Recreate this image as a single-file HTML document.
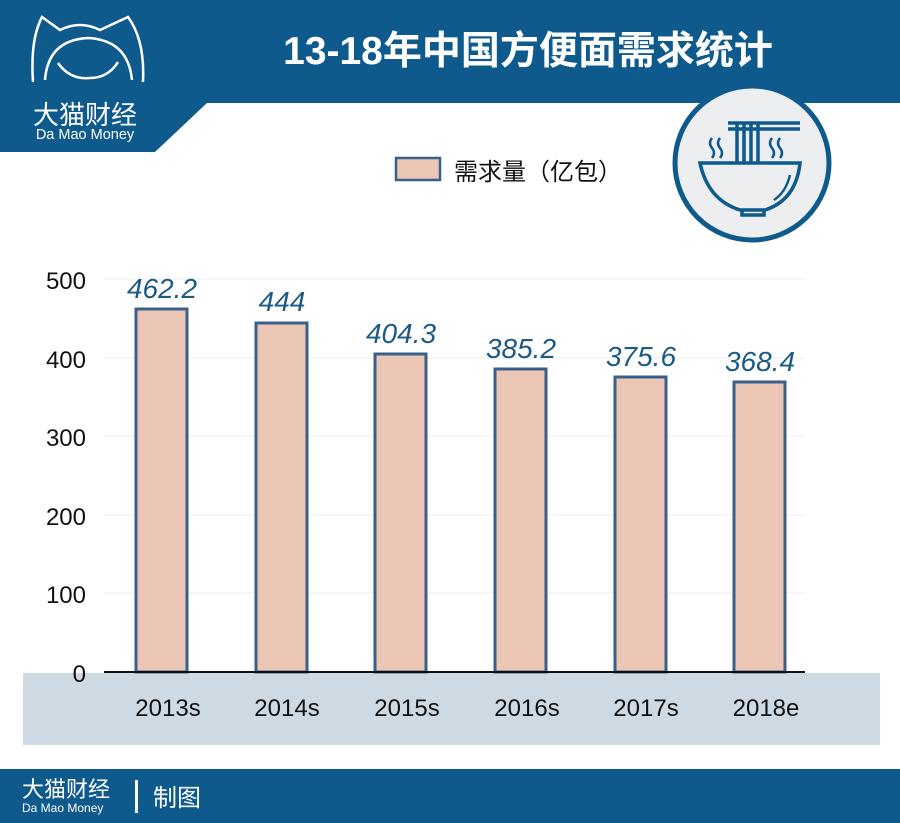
<!DOCTYPE html>
<html><head><meta charset="utf-8"><style>
html,body{margin:0;padding:0;background:#fff;}
svg{display:block;}
text{font-family:"Liberation Sans","Noto Sans CJK SC",sans-serif;}
</style></head><body>
<svg width="900" height="823" viewBox="0 0 900 823" xmlns="http://www.w3.org/2000/svg">
<polygon points="0,0 900,0 900,103 207,103 155,152 0,152" fill="#0f5a8c"/>
<g fill="none" stroke="#fff" stroke-width="2.5">
<path d="M33,82 Q30,40 42,17 L60,30 Q80,20 100,30 L128,17 Q145,40 143,82"/>
<path d="M45,80 Q48,40 88,38 Q128,40 132,80"/>
<path d="M58,63 Q70,80 90,78 Q108,78 118,62"/>
</g>
<text x="85" y="124" font-size="26" fill="#fff" text-anchor="middle">大猫财经</text>
<text x="85" y="139" font-size="14.5" fill="#fff" text-anchor="middle">Da Mao Money</text>
<text x="528" y="64" font-size="39" font-weight="bold" fill="#fff" text-anchor="middle">13-18年中国方便面需求统计</text>
<circle cx="752" cy="163" r="77" fill="#eceef0" stroke="#0f5a8c" stroke-width="5"/>
<g fill="none" stroke="#0f5a8c" stroke-width="3.5">
<path d="M700,163 L800,163 Q796,200 765,210 L740,210 Q708,200 700,163Z"/>
<path d="M742,210 L742,215 L764,215 L764,210"/>
<path d="M728,123 L800,123 M728,129 L800,129"/>
<path d="M737,123 V163 M744,123 V163 M751,123 V163 M758,123 V163"/>
<path d="M712,138 q-4,5 0,10 q4,5 0,10 M720,138 q-4,5 0,10 q4,5 0,10 M772,138 q-4,5 0,10 q4,5 0,10 M780,138 q-4,5 0,10 q4,5 0,10" stroke-width="2.5"/>
<path d="M790,175 Q786,192 774,200" stroke-width="2.5"/>
</g>
<rect x="396" y="158" width="44" height="22" fill="#ecc6b4" stroke="#3a5f8a" stroke-width="2.5"/>
<text x="454" y="180" font-size="24" fill="#111">需求量（亿包）</text>
<g stroke="#e8ecef" stroke-width="1">
<line x1="104" x2="805" y1="279" y2="279"/>
<line x1="104" x2="805" y1="358" y2="358"/>
<line x1="104" x2="805" y1="436" y2="436"/>
<line x1="104" x2="805" y1="515" y2="515"/>
<line x1="104" x2="805" y1="593" y2="593"/>
</g>
<rect x="23" y="673" width="857" height="72" fill="#cdd9e3"/>
<g font-size="24" fill="#111" text-anchor="end">
<text x="86" y="289">500</text><text x="86" y="368">400</text><text x="86" y="446">300</text>
<text x="86" y="525">200</text><text x="86" y="603">100</text><text x="86" y="682">0</text>
</g>
<g fill="#ecc6b4" stroke="#3a5f8a" stroke-width="3">
<rect x="136" y="309" width="51" height="363"/>
<rect x="256" y="323" width="51" height="349"/>
<rect x="375" y="354" width="51" height="318"/>
<rect x="495" y="369" width="51" height="303"/>
<rect x="615" y="377" width="51" height="295"/>
<rect x="734" y="382" width="51" height="290"/>
</g>
<line x1="104" x2="805" y1="672" y2="672" stroke="#111" stroke-width="2"/>
<g font-size="28" font-style="italic" fill="#1c5a86" text-anchor="middle">
<text x="162" y="298">462.2</text><text x="282" y="311">444</text><text x="401" y="343">404.3</text>
<text x="521" y="358">385.2</text><text x="641" y="366">375.6</text><text x="760" y="371">368.4</text>
</g>
<g font-size="24" fill="#111" text-anchor="middle">
<text x="168" y="716">2013s</text><text x="287" y="716">2014s</text><text x="407" y="716">2015s</text>
<text x="527" y="716">2016s</text><text x="646" y="716">2017s</text><text x="766" y="716">2018e</text>
</g>
<rect x="0" y="769" width="900" height="54" fill="#0f5a8c"/>
<text x="22" y="797" font-size="22" fill="#fff">大猫财经</text>
<text x="22" y="812" font-size="12" fill="#fff">Da Mao Money</text>
<rect x="135" y="780" width="3" height="33" fill="#fff"/>
<text x="153" y="806" font-size="24" fill="#fff">制图</text>
</svg>
</body></html>
